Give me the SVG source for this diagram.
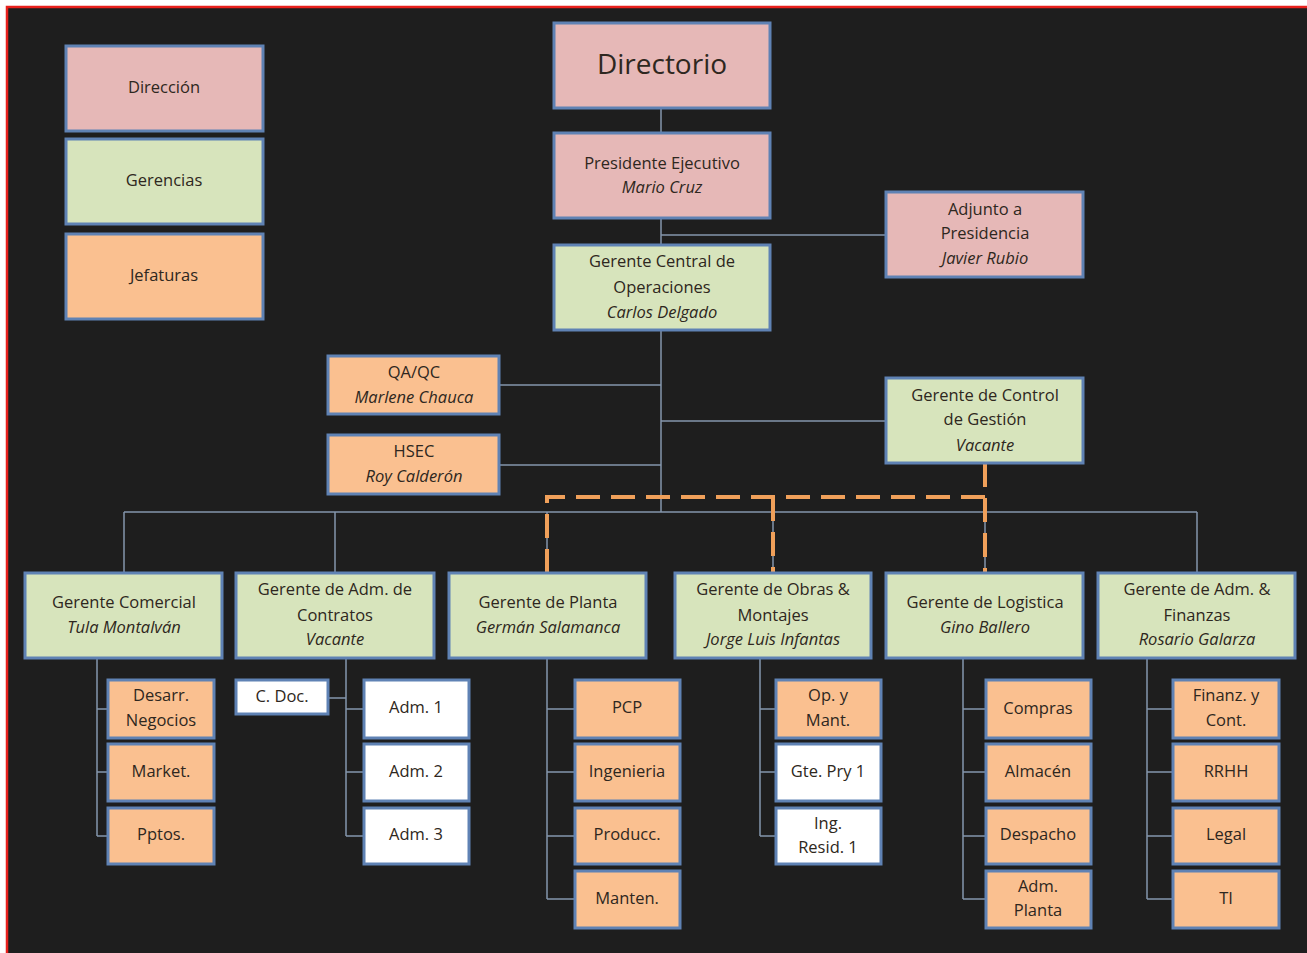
<svg xmlns="http://www.w3.org/2000/svg" width="1307" height="953" viewBox="0 0 1307 953">
<style>
.bg{fill:#1e1e1e}
.box{stroke:#5f82b4;stroke-width:3}
.p{fill:#e6b8b7}.g{fill:#d7e4bc}.o{fill:#fac090}.w{fill:#ffffff}
text{font-family:"Open Sans","Liberation Sans",sans-serif;font-size:16.5px;fill:#2e2720;text-anchor:middle;dominant-baseline:middle}
.i{font-style:italic}
.big{font-size:28px}
.con line,.con path{stroke:#8496ad;stroke-width:1.5;fill:none}
.con path.dash{stroke:#f0a05a;stroke-width:4;fill:none;stroke-dasharray:24 11}
</style>
<rect width="1307" height="953" fill="#ffffff"/>
<rect class="bg" x="7" y="7" width="1300" height="946"/>
<path d="M7,953 V7 H1307" stroke="#e8201c" stroke-width="2.5" fill="none"/>

<g id="connectors" class="con">
<line x1="661" y1="108" x2="661" y2="133"/>
<line x1="661" y1="218" x2="661" y2="245"/>
<line x1="661" y1="235" x2="886" y2="235"/>
<line x1="661" y1="330" x2="661" y2="512"/>
<line x1="499" y1="385" x2="661" y2="385"/>
<line x1="499" y1="465" x2="661" y2="465"/>
<line x1="661" y1="421" x2="886" y2="421"/>
<line x1="124" y1="512" x2="1197" y2="512"/>
<line x1="124" y1="512" x2="124" y2="573"/>
<line x1="335" y1="512" x2="335" y2="573"/>
<line x1="547" y1="512" x2="547" y2="573"/>
<line x1="773" y1="512" x2="773" y2="573"/>
<line x1="985" y1="512" x2="985" y2="573"/>
<line x1="1197" y1="512" x2="1197" y2="573"/>
<path d="M97,658 V836 M97,709 H108 M97,772 H108 M97,836 H108"/>
<path d="M346,658 V836 M346,709 H364 M346,772 H364 M346,836 H364 M328,698 H346"/>
<path d="M547,658 V899 M547,709 H575 M547,772 H575 M547,836 H575 M547,899 H575"/>
<path d="M760,658 V836 M760,709 H776 M760,772 H776 M760,836 H776"/>
<path d="M963,658 V899 M963,709 H986 M963,772 H986 M963,836 H986 M963,899 H986"/>
<path d="M1147,658 V899 M1147,709 H1173 M1147,772 H1173 M1147,836 H1173 M1147,899 H1173"/>
<path class="dash" d="M985,463 V573 M985,497 H547 V573 M773,497 V573"/>
</g>

<g id="leg-direccion"><rect class="box p" x="66" y="46" width="197" height="85"/><text x="164" y="89">Dirección</text></g>
<g id="leg-gerencias"><rect class="box g" x="66" y="139" width="197" height="85"/><text x="164" y="182">Gerencias</text></g>
<g id="leg-jefaturas"><rect class="box o" x="66" y="234" width="197" height="85"/><text x="164" y="277">Jefaturas</text></g>

<g id="directorio"><rect class="box p" x="554" y="23" width="216" height="85"/><text class="big" x="662" y="67">Directorio</text></g>
<g id="presidente"><rect class="box p" x="554" y="133" width="216" height="85"/><text x="662" y="165">Presidente Ejecutivo</text><text class="i" x="662" y="189">Mario Cruz</text></g>
<g id="adjunto"><rect class="box p" x="886" y="192" width="197" height="85"/><text x="985" y="211">Adjunto a</text><text x="985" y="235">Presidencia</text><text class="i" x="985" y="260">Javier Rubio</text></g>
<g id="gco"><rect class="box g" x="554" y="245" width="216" height="85"/><text x="662" y="263">Gerente  Central de</text><text x="662" y="289">Operaciones</text><text class="i" x="662" y="314">Carlos Delgado</text></g>
<g id="qaqc"><rect class="box o" x="328" y="356" width="171" height="58"/><text x="414" y="374">QA/QC</text><text class="i" x="414" y="399">Marlene Chauca</text></g>
<g id="hsec"><rect class="box o" x="328" y="435" width="171" height="59"/><text x="414" y="453">HSEC</text><text class="i" x="414" y="478">Roy Calderón</text></g>
<g id="control"><rect class="box g" x="886" y="378" width="197" height="85"/><text x="985" y="397">Gerente  de  Control</text><text x="985" y="421">de Gestión</text><text class="i" x="985" y="447">Vacante</text></g>

<g id="comercial"><rect class="box g" x="25" y="573" width="197" height="85"/><text x="124" y="604">Gerente  Comercial</text><text class="i" x="124" y="629">Tula Montalván</text></g>
<g id="contratos"><rect class="box g" x="236" y="573" width="198" height="85"/><text x="335" y="591">Gerente de Adm. de</text><text x="335" y="617">Contratos</text><text class="i" x="335" y="641">Vacante</text></g>
<g id="planta"><rect class="box g" x="449" y="573" width="197" height="85"/><text x="548" y="604">Gerente de Planta</text><text class="i" x="548" y="629">Germán Salamanca</text></g>
<g id="obras"><rect class="box g" x="675" y="573" width="196" height="85"/><text x="773" y="591">Gerente de  Obras &amp;</text><text x="773" y="617">Montajes</text><text class="i" x="773" y="641">Jorge Luis Infantas</text></g>
<g id="logistica"><rect class="box g" x="886" y="573" width="197" height="85"/><text x="985" y="604">Gerente de Logistica</text><text class="i" x="985" y="629">Gino Ballero</text></g>
<g id="finanzas"><rect class="box g" x="1098" y="573" width="197" height="85"/><text x="1197" y="591">Gerente de Adm. &amp;</text><text x="1197" y="617">Finanzas</text><text class="i" x="1197" y="641">Rosario Galarza</text></g>

<g id="desarr"><rect class="box o" x="108" y="680" width="106" height="58"/><text x="161" y="697">Desarr.</text><text x="161" y="722">Negocios</text></g>
<g id="market"><rect class="box o" x="108" y="744" width="106" height="57"/><text x="161" y="773">Market.</text></g>
<g id="pptos"><rect class="box o" x="108" y="808" width="106" height="56"/><text x="161" y="836">Pptos.</text></g>

<g id="cdoc"><rect class="box w" x="236" y="680" width="92" height="34"/><text x="282" y="698">C. Doc.</text></g>
<g id="adm1"><rect class="box w" x="364" y="680" width="105" height="58"/><text x="416" y="709">Adm. 1</text></g>
<g id="adm2"><rect class="box w" x="364" y="744" width="105" height="57"/><text x="416" y="773">Adm. 2</text></g>
<g id="adm3"><rect class="box w" x="364" y="808" width="105" height="56"/><text x="416" y="836">Adm. 3</text></g>

<g id="pcp"><rect class="box o" x="575" y="680" width="105" height="58"/><text x="627" y="709">PCP</text></g>
<g id="ingenieria"><rect class="box o" x="575" y="744" width="105" height="57"/><text x="627" y="773">Ingenieria</text></g>
<g id="producc"><rect class="box o" x="575" y="808" width="105" height="56"/><text x="627" y="836">Producc.</text></g>
<g id="manten"><rect class="box o" x="575" y="871" width="105" height="57"/><text x="627" y="900">Manten.</text></g>

<g id="opmant"><rect class="box o" x="776" y="680" width="105" height="58"/><text x="828" y="697">Op. y</text><text x="828" y="722">Mant.</text></g>
<g id="gtepry"><rect class="box w" x="776" y="744" width="105" height="57"/><text x="828" y="773">Gte. Pry 1</text></g>
<g id="ingresid"><rect class="box w" x="776" y="808" width="105" height="56"/><text x="828" y="825">Ing.</text><text x="828" y="849">Resid. 1</text></g>

<g id="compras"><rect class="box o" x="986" y="680" width="105" height="58"/><text x="1038" y="710">Compras</text></g>
<g id="almacen"><rect class="box o" x="986" y="744" width="105" height="57"/><text x="1038" y="773">Almacén</text></g>
<g id="despacho"><rect class="box o" x="986" y="808" width="105" height="56"/><text x="1038" y="836">Despacho</text></g>
<g id="admplanta"><rect class="box o" x="986" y="871" width="105" height="57"/><text x="1038" y="888">Adm.</text><text x="1038" y="912">Planta</text></g>

<g id="finanz"><rect class="box o" x="1173" y="680" width="106" height="58"/><text x="1226" y="697">Finanz. y</text><text x="1226" y="722">Cont.</text></g>
<g id="rrhh"><rect class="box o" x="1173" y="744" width="106" height="57"/><text x="1226" y="773">RRHH</text></g>
<g id="legal"><rect class="box o" x="1173" y="808" width="106" height="56"/><text x="1226" y="836">Legal</text></g>
<g id="ti"><rect class="box o" x="1173" y="871" width="106" height="57"/><text x="1226" y="900">TI</text></g>
</svg>
